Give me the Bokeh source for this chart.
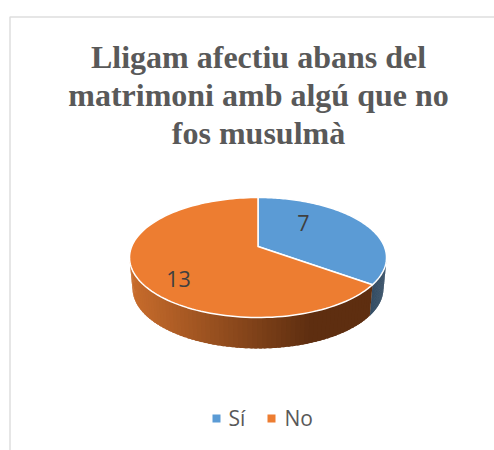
import math
from bokeh.plotting import figure
from bokeh.models import Range1d
from bokeh.core.properties import value
from bokeh.embed import file_html
from bokeh.resources import INLINE

title_lines = ["Lligam afectiu abans del", "matrimoni amb algú que no", "fos musulmà"]
categories = ["Sí", "No"]
values = [7, 13]
top_colors = ["#5b9bd5", "#ed7d31"]
side_left = {"Sí": (0x22, 0x44, 0x64), "No": (0xc8, 0x6c, 0x2c)}
side_right = {"Sí": (0x1c, 0x38, 0x52), "No": (0x5e, 0x2e, 0x10)}

CX, CY, RX, RY, PERSP = 257.5, 257, 128.5, 60, -0.183
CY2, RX2, RY2 = 288, 125.5, 60

p = figure(width=494, height=450, x_range=Range1d(0, 494), y_range=Range1d(450, 0),
           output_backend="svg", toolbar_location=None, min_border=0,
           outline_line_color=None, background_fill_color="white", border_fill_color="white")
p.axis.visible = False
p.grid.visible = False


def disc(theta):
    """Clockwise angle from the top of the pie, in perspective, as unit-disc coordinates."""
    u0, v0 = math.sin(theta), -math.cos(theta)
    d = 1 + PERSP * v0
    return u0 * math.sqrt(1 - PERSP ** 2) / d, (v0 + PERSP) / d


def lerp(a, b, f):
    return tuple(int(round(a[i] + (b[i] - a[i]) * f)) for i in range(3))


def hexc(c):
    return "#%02x%02x%02x" % c


# frame of the chart
p.line([9.5, 9.5, 494], [450, 16.5, 16.5], line_color="#dedede", line_width=1.5)

total = sum(values)
start = 0.0
sectors = []
for cat, val, col in zip(categories, values, top_colors):
    end = start + val / total * 2 * math.pi
    sectors.append((cat, start, end, col))
    start = end

# side wall, drawn as thin strips so that it carries the shading of the reference
for cat, a0, a1, col in sectors:
    u_a, v_a = disc(a0)
    u_b, v_b = disc(a1)
    t0 = math.atan2(u_a, -v_a) % (2 * math.pi)
    t1 = math.atan2(u_b, -v_b) % (2 * math.pi)
    if t1 < 1e-6:
        t1 = 2 * math.pi
    lo, hi = max(t0, math.pi / 2), min(t1, 3 * math.pi / 2)
    if hi <= lo:
        continue
    n = 70
    xs, ys, cs = [], [], []
    for i in range(n):
        b0 = lo + (hi - lo) * i / n
        b1 = lo + (hi - lo) * min(i + 1.6, n) / n
        ts = [b0 + (b1 - b0) * k / 3 for k in range(4)]
        top = [(CX + RX * math.sin(t), CY - RY * math.cos(t)) for t in ts]
        bot = [(CX + RX2 * math.sin(t), CY2 - RY2 * math.cos(t)) for t in ts]
        poly = top + bot[::-1]
        xs.append([q[0] for q in poly])
        ys.append([q[1] for q in poly])
        xm = sum(q[0] for q in top) / 4
        f = min(max((xm - (CX - RX)) / (2 * RX * 0.70), 0), 1)
        cs.append(hexc(lerp(side_left[cat], side_right[cat], f)))
    p.patches(xs, ys, fill_color=cs, line_color=None)

# top face
for cat, a0, a1, col in sectors:
    n = 120
    xs, ys = [CX], [CY + RY * PERSP]
    for i in range(n + 1):
        u, v = disc(a0 + (a1 - a0) * i / n)
        xs.append(CX + RX * u)
        ys.append(CY + RY * v)
    p.patch(xs, ys, fill_color=col, line_color="white", line_width=1.5, line_join="round")

# data labels
p.text([303], [222], text=[str(values[0])], text_font=value("Open Sans"), text_font_size="21.5px",
       text_color="#404040", text_align="center", text_baseline="middle")
p.text([178], [278], text=[str(values[1])], text_font=value("Open Sans"), text_font_size="21.5px",
       text_color="#404040", text_align="center", text_baseline="middle")

# title
p.text([258] * 3, [56, 94, 132], text=title_lines, text_font=value("Liberation Serif"),
       text_font_style="bold", text_font_size="32px", text_color="#595959",
       text_align="center", text_baseline="middle")

# legend
p.rect([216, 271], [418, 418], width=8, height=8, fill_color=top_colors, line_color=None)
p.text([228, 284], [417, 417], text=categories, text_font=value("Open Sans"), text_font_size="21px",
       text_color="#595959", text_align="left", text_baseline="middle")

open("out.html", "w").write(file_html(p, INLINE))
